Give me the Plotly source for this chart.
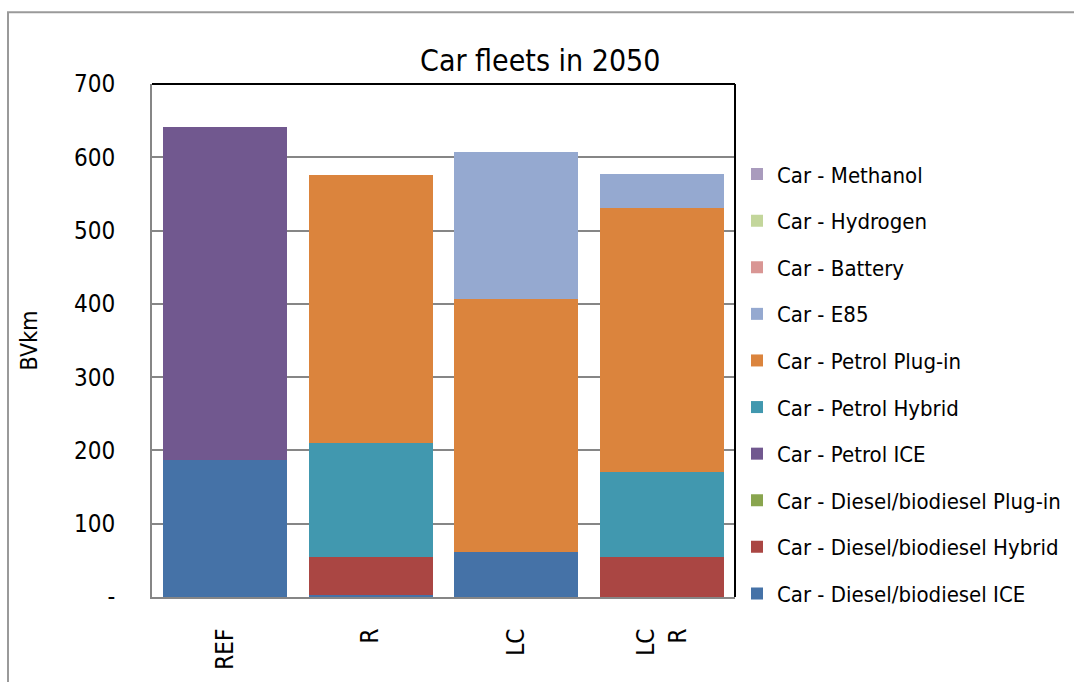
import plotly.graph_objects as go

categories = ["REF", "R", "LC", "LC<br>R"]

series_names = [
    "Car - Diesel/biodiesel ICE",
    "Car - Diesel/biodiesel Hybrid",
    "Car - Diesel/biodiesel Plug-in",
    "Car - Petrol ICE",
    "Car - Petrol Hybrid",
    "Car - Petrol Plug-in",
    "Car - E85",
    "Car - Battery",
    "Car - Hydrogen",
    "Car - Methanol",
]
diesel_ice = [187, 3, 61, 0]
diesel_hybrid = [0, 52, 0, 55]
diesel_plugin = [0, 0, 0, 0]
petrol_ice = [454, 0, 0, 0]
petrol_hybrid = [0, 155, 0, 116]
petrol_plugin = [0, 366, 346, 360]
e85 = [0, 0, 200, 46]
battery = [0, 0, 0, 0]
hydrogen = [0, 0, 0, 0]
methanol = [0, 0, 0, 0]

series_values = [diesel_ice, diesel_hybrid, diesel_plugin, petrol_ice, petrol_hybrid,
                 petrol_plugin, e85, battery, hydrogen, methanol]
colors = ["#4572A7", "#AA4643", "#89A54E", "#71588F", "#4198AF",
          "#DB843D", "#95A9D0", "#D99694", "#C3D69B", "#A99BBD"]

y_ticks = [0, 100, 200, 300, 400, 500, 600, 700]
y_ticktext = ["-", "100", "200", "300", "400", "500", "600", "700"]

FONT = "Liberation Sans Narrow, DejaVu Sans Condensed, Arial Narrow, sans-serif"

fig = go.Figure()
n = len(series_names)
for i, (name, vals, col) in enumerate(zip(series_names, series_values, colors)):
    fig.add_trace(go.Bar(
        x=categories, y=vals, name=name, legendgroup=name,
        legendrank=n - i,
        marker=dict(color=col, line=dict(width=0)),
    ))

fig.update_layout(
    barmode="stack",
    bargap=0.15,
    width=1074, height=682,
    margin=dict(l=152, r=339, t=84, b=85, autoexpand=False),
    paper_bgcolor="white", plot_bgcolor="white",
    font=dict(family=FONT, color="black", size=23),
    title=dict(text="Car fleets in 2050", x=0.503, xref="container", xanchor="center",
               y=0.912, yanchor="middle", yref="container",
               font=dict(size=30, family=FONT)),
    showlegend=True,
    legend=dict(traceorder="grouped", tracegroupgap=15,
                xref="container", x=737 / 1074, xanchor="left",
                y=0.865, yanchor="top",
                font=dict(size=22, family=FONT), bgcolor="rgba(0,0,0,0)"),
    xaxis=dict(showline=True, linecolor="#868686", linewidth=2, ticks="",
               tickangle=-90, ticklabelstandoff=20, tickfont=dict(size=24),
               showgrid=False, automargin=False),
    yaxis=dict(range=[0, 700], tickvals=y_ticks, ticktext=y_ticktext,
               showline=True, linecolor="#868686", linewidth=2,
               showgrid=True, gridcolor="#868686", gridwidth=2,
               ticks="", ticklabelstandoff=30, tickfont=dict(size=24),
               automargin=False,
               title=dict(text="BVkm", font=dict(size=23), standoff=30)),
)

# top and right black plot-area border
fig.add_shape(type="line", xref="paper", yref="paper", x0=0, x1=1, y0=1, y1=1,
              line=dict(color="black", width=2), layer="above")
fig.add_shape(type="line", xref="paper", yref="paper", x0=1, x1=1, y0=0, y1=1,
              line=dict(color="black", width=2), layer="above")
# outer chart border (partially visible)
fig.add_shape(type="rect", xref="paper", yref="paper",
              x0=-0.247, x1=1.7, y0=-0.3, y1=1.14,
              line=dict(color="#9A9A9A", width=2), layer="below")

fig.write_html("out.html",
               config={"displayModeBar": False},
               post_script="document.body.style.margin='0';document.body.style.padding='0';")
